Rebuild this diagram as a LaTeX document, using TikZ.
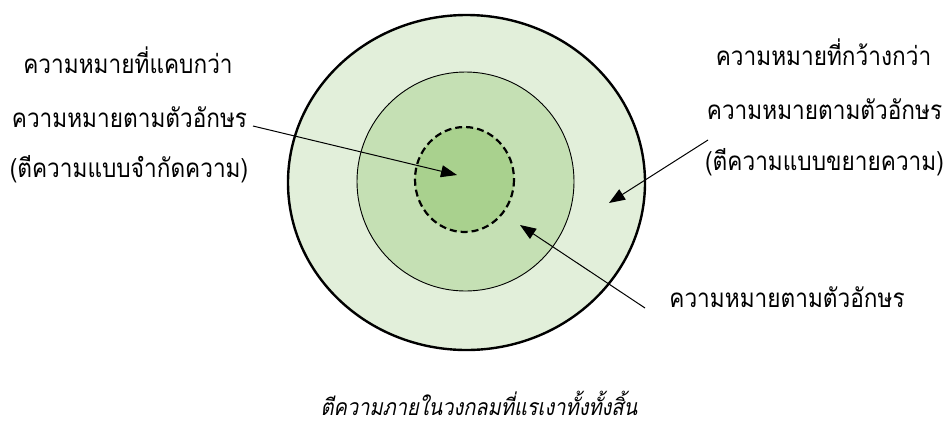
\documentclass[tikz,border=0pt]{standalone}
\usepackage{fontspec}
\usetikzlibrary{arrows.meta}
\newfontfamily\thaifont[Script=Thai,FakeStretch=0.87]{Loma}
\newfontfamily\thaiit[Script=Thai,FakeStretch=0.87,FakeSlant=0.2]{Loma}
\definecolor{gOuter}{HTML}{E2EFDA}
\definecolor{gMid}{HTML}{C5E0B4}
\definecolor{gInner}{HTML}{A9D18E}
\tikzset{
  lbl/.style={font=\thaifont\fontsize{26}{30}\selectfont, inner sep=0pt, anchor=base},
  captext/.style={font=\thaiit\fontsize{23}{27}\selectfont, inner sep=0pt, anchor=base},
  ptr/.style={line width=1pt, -{Triangle[length=16pt,width=12pt]}},
}
\begin{document}
\begin{tikzpicture}[x=1pt,y=-1pt]
\useasboundingbox (0,0) rectangle (944,424);
% circles
\draw[fill=gOuter, line width=2.4pt] (466.5,182.5) ellipse [x radius=178.5, y radius=167.5];
\draw[fill=gMid, line width=0.9pt] (465.5,181.5) ellipse [x radius=108.5, y radius=109.5];
\draw[fill=gInner, line width=2.2pt, dash pattern=on 7pt off 4pt] (464.5,179.5) ellipse [x radius=49.5, y radius=52.5];
% left texts
\node[lbl] (l1) at (128,73) {ความหมายที่แคบกว่า};
\node[lbl] (l2) at (129.5,127) {ความหมายตามตัวอักษร};
\node[lbl] (l3) at (129,177) {(ตีความแบบจำกัดความ)};
% right texts
\node[lbl] (r1) at (823.5,65) {ความหมายที่กว้างกว่า};
\node[lbl] (r2) at (824.5,119) {ความหมายตามตัวอักษร};
\node[lbl] (r3) at (824.5,170) {(ตีความแบบขยายความ)};
% bottom right text
\node[lbl] (b1) at (787,307) {ความหมายตามตัวอักษร};
% caption
\node[captext] (cp) at (479,415) {ตีความภายในวงกลมที่แรเงาทั้งทั้งสิ้น};
% arrow ends
\coordinate (sL) at (253,126);
\coordinate (tL) at (457,175);
\coordinate (sR) at (708,140);
\coordinate (tR) at (609,203);
\coordinate (sM) at (645,308);
\coordinate (tM) at (520,225);
\draw[ptr] (sL) -- (tL);
\draw[ptr] (sR) -- (tR);
\draw[ptr] (sM) -- (tM);
\end{tikzpicture}
\end{document}
